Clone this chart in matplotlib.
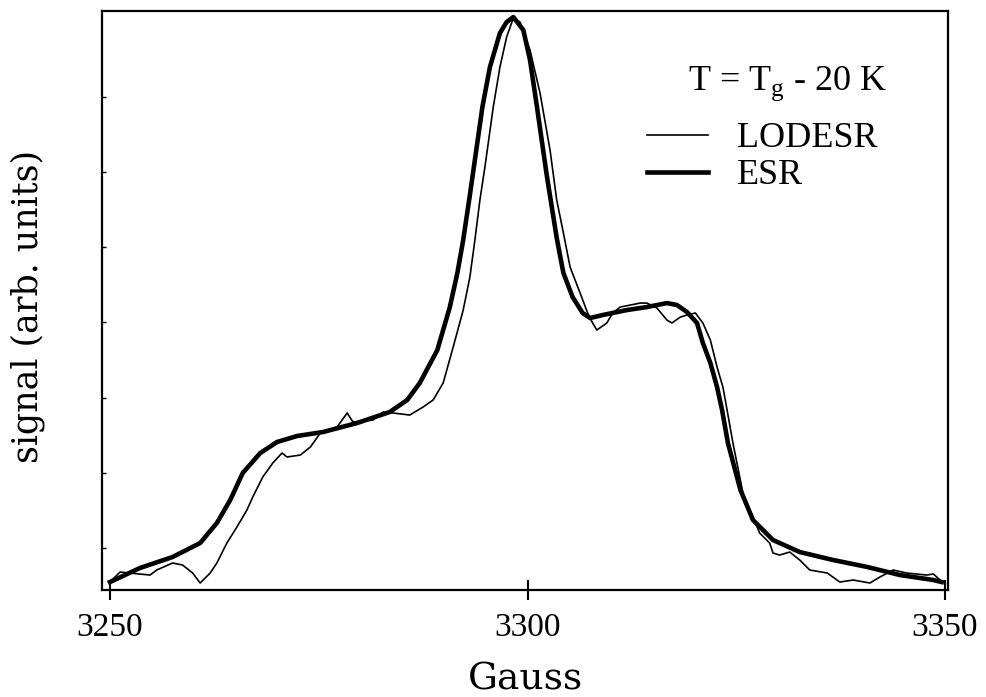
import matplotlib
matplotlib.use("Agg")
import matplotlib.pyplot as plt

# field (Gauss) and signal (arb. units)
esr_field = [3250.0, 3253.6, 3257.5, 3260.8, 3262.8, 3264.4, 3265.9, 3268.0, 3270.0,
             3272.4, 3275.5, 3279.6, 3283.5, 3285.6, 3287.1, 3289.2, 3290.7, 3291.6,
             3292.3, 3293.1, 3294.6, 3295.5, 3296.7, 3297.5, 3298.3, 3299.5, 3300.3,
             3301.1, 3302.3, 3303.5, 3304.3, 3305.4, 3306.6, 3307.5, 3309.0, 3311.9,
             3314.3, 3316.7, 3317.9, 3319.1, 3320.3, 3321.0, 3321.9, 3322.7, 3323.3,
             3324.0, 3325.5, 3327.0, 3329.4, 3332.6, 3336.6, 3340.7, 3344.6, 3348.6,
             3349.6]
esr_signal = [1.06, 2.93, 4.39, 6.25, 8.91, 11.97, 15.56, 18.22, 19.68,
              20.48, 21.01, 22.21, 23.67, 25.27, 27.53, 31.91, 37.63, 42.15,
              46.54, 52.53, 64.23, 69.55, 74.07, 75.53, 76.20, 74.47, 70.48,
              64.50, 55.19, 46.81, 42.15, 38.96, 36.84, 36.17, 36.57, 37.23,
              37.63, 38.16, 37.90, 36.97, 35.51, 32.85, 30.19, 26.99, 23.94,
              19.55, 13.30, 9.31, 6.65, 5.05, 3.99, 3.06, 1.99, 1.33,
              1.06]

lodesr_field = [3250.0, 3251.2, 3254.8, 3255.6, 3257.5, 3258.7, 3259.9, 3260.8, 3262.0,
                3262.8, 3264.0, 3265.2, 3266.4, 3267.1, 3268.3, 3269.5, 3270.6, 3271.2,
                3272.8, 3274.0, 3275.2, 3277.2, 3278.4, 3279.1, 3281.5, 3282.7, 3283.9,
                3285.9, 3287.5, 3288.7, 3289.9, 3291.1, 3292.3, 3293.1, 3293.7, 3294.3,
                3294.9, 3295.9, 3296.7, 3297.5, 3298.3, 3299.1, 3300.3, 3301.5, 3302.7,
                3303.5, 3304.3, 3305.1, 3306.3, 3307.2, 3307.8, 3308.3, 3309.5, 3310.2,
                3311.1, 3313.5, 3314.3, 3315.5, 3316.7, 3317.3, 3318.3, 3319.1, 3320.1,
                3321.0, 3321.9, 3322.7, 3323.4, 3323.9, 3324.6, 3325.8, 3327.8, 3329.0,
                3329.4, 3330.2, 3331.4, 3332.6, 3333.8, 3335.9, 3337.4, 3339.0, 3341.0,
                3342.2, 3343.8, 3345.4, 3347.8, 3348.6, 3349.4]
lodesr_signal = [1.06, 2.39, 1.99, 2.66, 3.59, 3.32, 2.26, 0.93, 2.26,
                 3.59, 6.25, 8.38, 10.64, 12.37, 15.03, 16.89, 18.22, 17.69,
                 17.95, 19.02, 20.88, 21.68, 23.54, 22.34, 22.61, 23.67, 23.54,
                 23.27, 24.34, 25.27, 27.53, 32.31, 37.23, 41.62, 46.54, 51.86,
                 56.25, 64.23, 69.55, 73.54, 76.06, 75.53, 71.81, 66.09, 58.51,
                 51.86, 47.47, 42.95, 39.49, 36.84, 35.51, 34.57, 35.51, 36.84,
                 37.63, 38.16, 38.16, 37.50, 35.90, 35.51, 36.30, 36.57, 36.84,
                 35.51, 33.24, 29.65, 26.99, 23.94, 19.55, 12.90, 7.58, 6.25,
                 4.92, 4.65, 5.05, 3.99, 2.66, 2.26, 1.06, 1.33, 0.93,
                 1.73, 2.66, 2.26, 1.99, 2.13, 1.33]

x_ticks = [3250, 3300, 3350]
y_ticks = [5.6, 15.6, 25.6, 35.6, 45.6, 55.6, 65.6]  # unlabelled marks

plt.rcParams["font.family"] = ["Liberation Serif", "DejaVu Serif"]
plt.rcParams["mathtext.fontset"] = "custom"
plt.rcParams["mathtext.rm"] = "Liberation Serif"

fig = plt.figure(figsize=(9.86, 6.97), dpi=100)
ax = fig.add_axes([0.1034, 0.1535, 0.8581, 0.8307])

ax.plot(lodesr_field, lodesr_signal, color="black", lw=1.2, label="LODESR")
ax.plot(esr_field, esr_signal, color="black", lw=3.3, label="ESR")

ax.set_xlim(3249.04, 3350.36)
ax.set_ylim(0, 77.0)
ax.set_xticks(x_ticks)
ax.set_yticks(y_ticks)
ax.set_yticklabels([])

ax.tick_params(axis="x", direction="inout", length=14, width=1.5, pad=9, labelsize=24)
ax.tick_params(axis="y", direction="in", length=3, width=1.0)
for side in ax.spines.values():
    side.set_linewidth(1.6)

ax.set_xlabel("Gauss", family="DejaVu Serif", fontsize=27)
ax.xaxis.set_label_coords(0.5, -0.124)
ax.set_ylabel("signal (arb. units)", family="DejaVu Serif", fontsize=25)
ax.yaxis.set_label_coords(-0.067, 0.49)

ax.text(0.693, 0.8636, r"T = T$_{\mathrm{g}}$ - 20 K", transform=ax.transAxes,
        fontsize=26, ha="left", va="baseline")

ax.legend(loc="upper left", bbox_to_anchor=(0.644, 0.808), frameon=False,
          fontsize=26, handlelength=1.7, handletextpad=0.8, labelspacing=0.1,
          borderpad=0, borderaxespad=0)

fig.savefig("out.png", dpi=100)
